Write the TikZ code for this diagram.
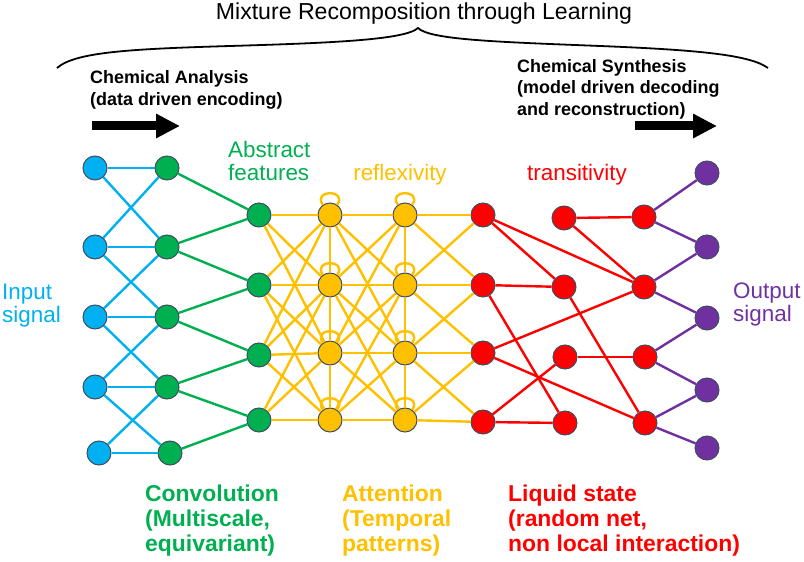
\documentclass[tikz,border=0pt]{standalone}
\usepackage{fontspec}
\setmainfont{Liberation Sans}
\usetikzlibrary{arrows.meta}
\definecolor{inblue}{HTML}{00B0F0}
\definecolor{convgreen}{HTML}{00B050}
\definecolor{attyellow}{HTML}{FFC000}
\definecolor{liqred}{HTML}{FF0000}
\definecolor{outpurple}{HTML}{7030A0}
\definecolor{rim}{HTML}{3F4F63}
\begin{document}
\begin{tikzpicture}[x=1bp,y=-1bp,
			main node/.style = {circle,draw=rim,line width=1bp,inner sep=0pt,minimum size=24bp},
			wire/.style = {line width=2.4bp},
			self loop/.style = {out=55,in=125,min distance=19bp},
			txt/.style = {inner sep=0pt,align=left},
			big arrow/.style = {line width=9bp,-{Triangle[length=24bp,width=23bp]}}]
			\useasboundingbox (0,0) rectangle (804,562);
			
			% title and brace
			\node[txt,anchor=north,font=\fontsize{23.2}{24}\selectfont] (title) at (424,3) {Mixture Recomposition through Learning};
			\draw[line width=1.8bp] (57,68) .. controls (75,52) and (130,49) .. (230,46)
			.. controls (330,43) and (405,40) .. (418,28)
			.. controls (430,40) and (500,42) .. (600,46)
			.. controls (700,50) and (750,55) .. (768,68);
			
			\node[txt,anchor=north west,font=\bfseries\fontsize{18}{22}\selectfont] (ana) at (90,70) {Chemical Analysis\\(data driven encoding)};
			\node[txt,anchor=north west,font=\bfseries\fontsize{18}{21.5}\selectfont] (syn) at (517,59) {Chemical Synthesis\\(model driven decoding\\and reconstruction)};
			\coordinate (ana tail) at (92,126);
			\coordinate (ana tip) at (180,126);
			\coordinate (syn tail) at (635,126);
			\coordinate (syn tip) at (717,126);
			\draw[big arrow] (ana tail) -- (ana tip);
			\draw[big arrow] (syn tail) -- (syn tip);
			
			% nodes
			\node[main node,fill=inblue] (b1) at (95,168) {};
			\node[main node,fill=inblue] (b2) at (95,247) {};
			\node[main node,fill=inblue] (b3) at (95,317) {};
			\node[main node,fill=inblue] (b4) at (95,387) {};
			\node[main node,fill=inblue] (b5) at (99,453) {};
			
			\node[main node,fill=convgreen] (g1) at (167,168) {};
			\node[main node,fill=convgreen] (g2) at (167,247) {};
			\node[main node,fill=convgreen] (g3) at (167,317) {};
			\node[main node,fill=convgreen] (g4) at (167,387) {};
			\node[main node,fill=convgreen] (g5) at (170,453) {};
			
			\node[main node,fill=convgreen] (h1) at (259,215) {};
			\node[main node,fill=convgreen] (h2) at (259,285) {};
			\node[main node,fill=convgreen] (h3) at (259,355) {};
			\node[main node,fill=convgreen] (h4) at (259,420) {};
			
			\node[main node,fill=attyellow] (a1) at (330,215) {};
			\node[main node,fill=attyellow] (a2) at (330,285) {};
			\node[main node,fill=attyellow] (a3) at (330,353) {};
			\node[main node,fill=attyellow] (a4) at (330,420) {};
			
			\node[main node,fill=attyellow] (c1) at (405,215) {};
			\node[main node,fill=attyellow] (c2) at (405,285) {};
			\node[main node,fill=attyellow] (c3) at (405,353) {};
			\node[main node,fill=attyellow] (c4) at (405,420) {};
			
			\node[main node,fill=liqred] (r1) at (483,215) {};
			\node[main node,fill=liqred] (r2) at (483,285) {};
			\node[main node,fill=liqred] (r3) at (483,353) {};
			\node[main node,fill=liqred] (r4) at (483,422) {};
			
			\node[main node,fill=liqred] (s1) at (564,218) {};
			\node[main node,fill=liqred] (s2) at (564,287) {};
			\node[main node,fill=liqred] (s3) at (565,357) {};
			\node[main node,fill=liqred] (s4) at (565,423) {};
			
			\node[main node,fill=liqred] (t1) at (644,217) {};
			\node[main node,fill=liqred] (t2) at (644,287) {};
			\node[main node,fill=liqred] (t3) at (645,357) {};
			\node[main node,fill=liqred] (t4) at (645,423) {};
			
			\node[main node,fill=outpurple] (o1) at (707,173) {};
			\node[main node,fill=outpurple] (o2) at (707,247) {};
			\node[main node,fill=outpurple] (o3) at (707,318) {};
			\node[main node,fill=outpurple] (o4) at (707,390) {};
			\node[main node,fill=outpurple] (o5) at (707,448) {};
			
			% edges
			\path[wire,color=inblue] (b1) edge (g1) edge (g2);
			\path[wire,color=inblue] (b2) edge (g1) edge (g2) edge (g3);
			\path[wire,color=inblue] (b3) edge (g2) edge (g3) edge (g4);
			\path[wire,color=inblue] (b4) edge (g3) edge (g4) edge (g5);
			\path[wire,color=inblue] (b5) edge (g4) edge (g5);
			
			\path[wire,color=convgreen] (g1) edge (h1);
			\path[wire,color=convgreen] (g2) edge (h1) edge (h2);
			\path[wire,color=convgreen] (g3) edge (h2) edge (h3);
			\path[wire,color=convgreen] (g4) edge (h3) edge (h4);
			\path[wire,color=convgreen] (g5) edge (h4);
			
			\path[wire,color=attyellow] (h1) edge (a1) edge (a2) edge (a3);
			\path[wire,color=attyellow] (h2) edge (a1) edge (a2) edge (a3) edge (a4);
			\path[wire,color=attyellow] (h3) edge (a1) edge (a2) edge (a3) edge (a4);
			\path[wire,color=attyellow] (h4) edge (a2) edge (a3) edge (a4);
			\path[wire,color=attyellow] (a1) edge (a2) (a2) edge (a3) (a3) edge (a4);
			\path[wire,color=attyellow] (a1) edge (c1) edge (c2) edge (c3);
			\path[wire,color=attyellow] (a2) edge (c1) edge (c2) edge (c3) edge (c4);
			\path[wire,color=attyellow] (a3) edge (c1) edge (c2) edge (c3) edge (c4);
			\path[wire,color=attyellow] (a4) edge (c2) edge (c3) edge (c4);
			\path[wire,color=attyellow] (c1) edge (c2) (c2) edge (c3) (c3) edge (c4);
			\path[wire,color=attyellow] (c1) edge (r1) edge (r2);
			\path[wire,color=attyellow] (c2) edge (r1) edge (r2) edge (r3);
			\path[wire,color=attyellow] (c3) edge (r2) edge (r3) edge (r4);
			\path[wire,color=attyellow] (c4) edge (r3) edge (r4);
			
			\path[wire,color=attyellow] (a1) edge [self loop] (a1);
			\path[wire,color=attyellow] (a2) edge [self loop] (a2);
			\path[wire,color=attyellow] (a3) edge [self loop] (a3);
			\path[wire,color=attyellow] (a4) edge [self loop] (a4);
			\path[wire,color=attyellow] (c1) edge [self loop] (c1);
			\path[wire,color=attyellow] (c2) edge [self loop] (c2);
			\path[wire,color=attyellow] (c3) edge [self loop] (c3);
			\path[wire,color=attyellow] (c4) edge [self loop] (c4);
			
			\path[wire,color=liqred] (r1) edge (s2) edge (t2);
			\path[wire,color=liqred] (r2) edge (s2) edge (s4);
			\path[wire,color=liqred] (r3) edge (t2) edge (t4);
			\path[wire,color=liqred] (r4) edge (s4) edge (s3);
			\path[wire,color=liqred] (s1) edge (t1) edge (t2);
			\path[wire,color=liqred] (s2) edge (t4);
			\path[wire,color=liqred] (s3) edge (t3);
			
			\path[wire,color=outpurple] (t1) edge (o1) edge (o2);
			\path[wire,color=outpurple] (t2) edge (o2) edge (o3);
			\path[wire,color=outpurple] (t3) edge (o3) edge (o4);
			\path[wire,color=outpurple] (t4) edge (o4) edge (o5);
			
			% labels
			\node[txt,anchor=north west,text=inblue,font=\fontsize{22.5}{23}\selectfont] (insig) at (2,284) {Input\\signal};
			\node[txt,anchor=north west,text=outpurple,font=\fontsize{22.5}{23}\selectfont] (outsig) at (733,283) {Output\\signal};
			\node[txt,anchor=north west,text=convgreen,font=\fontsize{22.5}{23}\selectfont] (abs) at (228,141) {Abstract\\features};
			\node[txt,anchor=base,text=attyellow,font=\fontsize{22.5}{23}\selectfont] (refl) at (400,181) {reflexivity};
			\node[txt,anchor=base,text=liqred,font=\fontsize{22.5}{23}\selectfont] (trans) at (577,181) {transitivity};
			
			\node[txt,anchor=north west,text=convgreen,font=\bfseries\fontsize{23}{25}\selectfont] (conv) at (145,485) {Convolution\\(Multiscale,\\equivariant)};
			\node[txt,anchor=north west,text=attyellow,font=\bfseries\fontsize{23}{25}\selectfont] (att) at (342,485) {Attention\\(Temporal\\patterns)};
			\node[txt,anchor=north west,text=liqred,font=\bfseries\fontsize{23}{25}\selectfont] (liq) at (508,485) {Liquid state\\(random net,\\non local interaction)};
			
		\end{tikzpicture}
\end{document}
